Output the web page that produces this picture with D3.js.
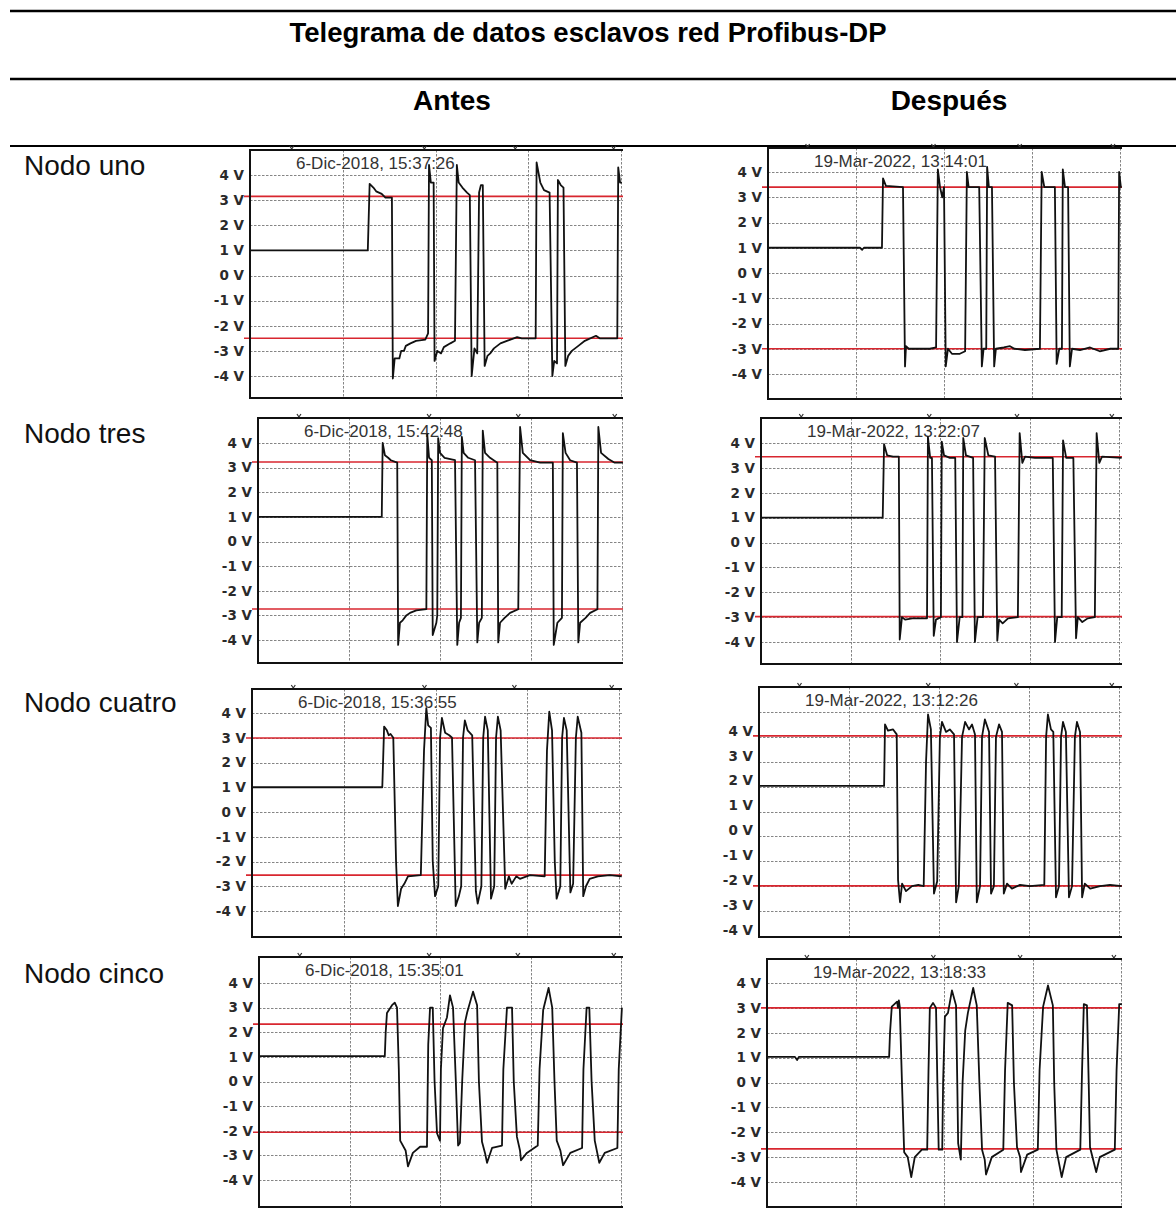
<!DOCTYPE html>
<html>
<head>
<meta charset="utf-8">
<script src="https://cdn.jsdelivr.net/npm/d3@7"></script>
<style>
  html, body { margin: 0; padding: 0; background: #fff; }
  svg { display: block; }
</style>
</head>
<body>
<script>
// ---------- data ----------
const tableTitle = "Telegrama de datos esclavos red Profibus-DP";
const columns = ["Antes", "Después"];
const nodes = ["Nodo uno", "Nodo tres", "Nodo cuatro", "Nodo cinco"];
const voltTicks = [4, 3, 2, 1, 0, -1, -2, -3, -4];
const cursorMarks = [0.45, 1.88, 2.86, 3.92];   // time (div) of the trigger markers

const stampsAntes = ["6-Dic-2018, 15:37:26", "6-Dic-2018, 15:42:48", "6-Dic-2018, 15:36:55", "6-Dic-2018, 15:35:01"];
const stampsDespues = ["19-Mar-2022, 13:14:01", "19-Mar-2022, 13:22:07", "19-Mar-2022, 13:12:26", "19-Mar-2022, 13:18:33"];

// reference levels (V): [high, low]
const levelsAntes = [[3.15, -2.5], [3.23, -2.74], [2.99, -2.55], [2.33, -2.06]];
const levelsDespues = [[3.4, -3.0], [3.45, -2.98], [3.04, -2.99], [3.0, -2.67]];

// traces: [time in divisions, volts]
const traceUnoAntes = [[0,1.0],[1.27,1.0],[1.29,3.65],[1.33,3.5],[1.36,3.35],[1.42,3.25],[1.46,3.1],[1.53,3.1],[1.54,-4.1],[1.56,-3.3],[1.61,-3.3],[1.63,-3.0],[1.66,-3.0],[1.68,-2.8],[1.73,-2.7],[1.79,-2.6],[1.89,-2.55],[1.92,-2.3],[1.93,4.4],[1.95,3.7],[1.98,3.7],[1.99,-3.4],[2.02,-3.0],[2.06,-3.1],[2.09,-2.85],[2.16,-2.7],[2.21,-2.6],[2.23,4.4],[2.25,3.7],[2.29,3.5],[2.34,3.3],[2.37,3.2],[2.39,-4.0],[2.42,-2.9],[2.45,-3.1],[2.47,3.3],[2.49,3.6],[2.51,3.6],[2.53,-3.6],[2.56,-3.2],[2.59,-3.1],[2.63,-2.9],[2.70,-2.7],[2.77,-2.6],[2.88,-2.45],[2.93,-2.5],[3.08,-2.5],[3.09,4.5],[3.13,3.7],[3.17,3.4],[3.23,3.3],[3.26,-4.0],[3.28,-3.4],[3.31,-3.5],[3.32,3.8],[3.35,3.6],[3.38,3.5],[3.40,-3.6],[3.43,-3.2],[3.47,-3.0],[3.54,-2.8],[3.61,-2.6],[3.73,-2.4],[3.77,-2.5],[3.96,-2.5],[3.97,4.3],[3.99,3.7],[4.01,3.7]];
const traceUnoDespues = [[0,1.0],[1.045,1.0],[1.07,0.92],[1.09,1.0],[1.295,1.0],[1.307,3.75],[1.34,3.45],[1.534,3.4],[1.557,-3.7],[1.568,-2.9],[1.60,-3.0],[1.84,-3.0],[1.91,-2.95],[1.93,4.1],[1.955,3.4],[1.98,3.0],[2.0,3.4],[2.02,-3.7],[2.045,-3.0],[2.09,-3.2],[2.18,-3.2],[2.24,-3.1],[2.26,4.0],[2.28,3.4],[2.40,3.4],[2.43,-3.7],[2.45,-3.0],[2.48,-3.0],[2.49,4.2],[2.51,3.4],[2.545,3.4],[2.57,-3.7],[2.59,-3.0],[2.68,-2.95],[2.75,-2.9],[2.80,-3.0],[2.92,-3.05],[3.09,-3.0],[3.11,4.0],[3.14,3.4],[3.26,3.4],[3.28,-3.6],[3.31,-3.0],[3.34,-3.0],[3.35,4.1],[3.375,3.4],[3.41,3.4],[3.43,-3.7],[3.455,-3.0],[3.545,-3.05],[3.66,-2.95],[3.77,-3.1],[3.89,-3.0],[3.98,-3.0],[3.99,4.0],[4.01,3.4],[4.02,3.4]];
const traceTresAntes = [[0,1.0],[1.36,1.0],[1.37,4.0],[1.395,3.5],[1.43,3.4],[1.46,3.3],[1.53,3.2],[1.54,-4.2],[1.56,-3.3],[1.59,-3.2],[1.63,-3.0],[1.67,-2.9],[1.74,-2.8],[1.85,-2.75],[1.86,4.35],[1.88,3.4],[1.91,3.3],[1.92,-3.8],[1.96,-3.3],[1.97,-3.0],[1.98,4.2],[2.0,3.6],[2.05,3.4],[2.165,3.3],[2.19,-4.2],[2.21,-3.3],[2.23,-3.1],[2.24,4.25],[2.26,3.6],[2.31,3.4],[2.385,3.3],[2.41,-4.1],[2.43,-3.3],[2.46,-3.1],[2.47,4.5],[2.495,3.6],[2.55,3.4],[2.63,3.2],[2.64,-4.1],[2.66,-3.3],[2.71,-3.1],[2.77,-2.9],[2.86,-2.75],[2.88,4.65],[2.91,3.6],[2.99,3.3],[3.1,3.2],[3.24,3.2],[3.25,-4.2],[3.29,-3.3],[3.34,-3.1],[3.35,4.4],[3.38,3.6],[3.43,3.3],[3.505,3.2],[3.52,-4.1],[3.54,-3.3],[3.60,-3.1],[3.65,-2.9],[3.73,-2.75],[3.74,4.65],[3.77,3.6],[3.85,3.35],[3.92,3.2],[4.01,3.2]];
const traceTresDespues = [[0,1.0],[1.36,1.0],[1.375,3.95],[1.41,3.5],[1.475,3.45],[1.54,3.45],[1.55,-3.9],[1.575,-3.0],[1.61,-3.1],[1.69,-3.05],[1.855,-3.05],[1.865,4.25],[1.89,3.4],[1.91,3.4],[1.93,-3.75],[1.955,-3.1],[2.01,-3.0],[2.02,4.05],[2.045,3.5],[2.11,3.4],[2.17,3.4],[2.19,-4.0],[2.22,-3.0],[2.25,-3.0],[2.26,4.2],[2.29,3.5],[2.37,3.4],[2.39,-4.0],[2.42,-3.0],[2.48,-3.0],[2.50,4.2],[2.54,3.5],[2.615,3.45],[2.64,-3.95],[2.66,-3.1],[2.70,-3.25],[2.76,-3.05],[2.87,-3.0],[2.89,4.4],[2.92,3.2],[2.95,3.45],[3.06,3.4],[3.26,3.4],[3.285,-4.0],[3.31,-3.0],[3.36,-3.0],[3.375,4.1],[3.41,3.4],[3.49,3.4],[3.52,-3.85],[3.54,-3.0],[3.59,-3.2],[3.65,-3.05],[3.73,-3.0],[3.75,4.4],[3.78,3.2],[3.81,3.45],[4.03,3.4]];
const traceCuatroAntes = [[0,1.0],[1.42,1.0],[1.43,2.2],[1.44,3.45],[1.47,3.3],[1.49,3.1],[1.51,3.15],[1.54,3.0],[1.57,-2.0],[1.59,-3.8],[1.625,-3.1],[1.66,-2.9],[1.70,-2.6],[1.84,-2.55],[1.875,2.5],[1.90,4.2],[1.92,3.5],[1.95,3.4],[1.97,-2.0],[1.995,-3.4],[2.03,-3.0],[2.05,3.0],[2.07,3.8],[2.105,3.2],[2.15,3.1],[2.18,3.0],[2.22,-3.8],[2.255,-3.4],[2.28,-3.0],[2.30,3.0],[2.32,3.7],[2.35,3.3],[2.40,3.1],[2.44,-3.2],[2.46,-3.7],[2.50,-3.0],[2.52,3.0],[2.54,3.85],[2.57,3.3],[2.605,-3.5],[2.64,-3.0],[2.66,3.0],[2.68,3.85],[2.71,3.3],[2.76,-3.1],[2.80,-2.6],[2.83,-2.9],[2.88,-2.6],[2.92,-2.7],[3.03,-2.55],[3.19,-2.6],[3.215,2.5],[3.24,4.05],[3.27,3.3],[3.30,-2.0],[3.32,-3.5],[3.36,-3.0],[3.38,3.0],[3.40,3.8],[3.43,3.3],[3.47,-3.25],[3.50,-2.9],[3.53,3.0],[3.55,3.85],[3.59,3.2],[3.61,-3.4],[3.64,-3.0],[3.68,-2.7],[3.77,-2.6],[3.90,-2.55],[4.03,-2.6]];
const traceCuatroDespues = [[0,1.03],[1.39,1.03],[1.40,3.5],[1.433,3.25],[1.49,3.3],[1.53,3.1],[1.545,-2.75],[1.567,-3.65],[1.59,-2.9],[1.633,-3.2],[1.70,-3.0],[1.77,-2.95],[1.83,-3.0],[1.856,2.0],[1.878,3.9],[1.91,3.3],[1.944,-3.3],[1.98,-2.8],[2.01,3.0],[2.033,3.6],[2.078,3.2],[2.12,3.3],[2.167,3.1],[2.19,-3.65],[2.22,-3.0],[2.256,3.0],[2.29,3.6],[2.333,3.3],[2.367,3.5],[2.40,3.1],[2.42,-3.65],[2.456,-3.0],[2.478,3.0],[2.51,3.7],[2.556,3.2],[2.578,-3.3],[2.61,-3.0],[2.633,3.0],[2.667,3.5],[2.70,3.2],[2.72,-3.3],[2.756,-2.9],[2.81,-3.1],[2.90,-2.95],[3.01,-3.0],[3.17,-2.95],[3.19,3.0],[3.21,3.9],[3.244,3.3],[3.27,3.2],[3.30,-3.45],[3.333,-3.0],[3.356,3.0],[3.378,3.6],[3.41,3.2],[3.444,-3.45],[3.478,-3.0],[3.51,3.0],[3.533,3.6],[3.567,3.2],[3.59,-3.45],[3.62,-2.9],[3.68,-3.1],[3.79,-3.0],[3.90,-2.95],[4.03,-3.0]];
const traceCincoAntes = [[0,1.03],[1.39,1.03],[1.40,2.0],[1.414,2.78],[1.47,3.1],[1.50,3.2],[1.525,3.0],[1.545,0.5],[1.56,-2.4],[1.62,-2.8],[1.646,-3.45],[1.70,-2.9],[1.78,-2.65],[1.856,-2.65],[1.87,1.5],[1.89,3.0],[1.92,3.0],[1.94,0.0],[1.967,-2.1],[2.0,-2.4],[2.01,0.5],[2.033,2.17],[2.077,2.6],[2.11,3.5],[2.144,3.0],[2.175,0.0],[2.2,-2.6],[2.22,-2.5],[2.245,0.0],[2.276,2.4],[2.30,2.8],[2.365,3.65],[2.41,3.1],[2.43,0.0],[2.464,-2.45],[2.497,-2.9],[2.52,-3.3],[2.575,-2.7],[2.685,-2.6],[2.70,0.5],[2.74,3.0],[2.796,3.0],[2.815,0.0],[2.85,-2.25],[2.884,-2.8],[2.895,-3.2],[2.96,-2.9],[3.08,-2.6],[3.10,0.5],[3.14,2.9],[3.20,3.8],[3.24,3.0],[3.265,0.0],[3.29,-2.4],[3.33,-2.8],[3.36,-3.4],[3.44,-2.9],[3.57,-2.7],[3.585,0.5],[3.62,3.0],[3.65,3.0],[3.675,0.0],[3.71,-2.4],[3.76,-3.3],[3.82,-2.9],[3.96,-2.7],[3.975,0.5],[4.01,3.0]];
const traceCincoDespues = [[0,1.03],[0.316,1.03],[0.34,0.9],[0.36,1.03],[1.38,1.03],[1.39,2.0],[1.41,3.05],[1.47,3.25],[1.48,3.0],[1.49,3.3],[1.50,3.05],[1.525,0.0],[1.55,-2.8],[1.59,-3.0],[1.63,-3.8],[1.67,-3.0],[1.75,-2.7],[1.81,-2.7],[1.825,0.5],[1.84,3.0],[1.876,3.2],[1.91,3.0],[1.925,0.0],[1.94,-2.7],[1.98,-2.7],[1.99,0.0],[2.01,2.65],[2.045,2.8],[2.09,3.7],[2.136,3.1],[2.15,0.0],[2.16,-2.45],[2.19,-3.1],[2.21,0.0],[2.24,2.1],[2.27,2.8],[2.33,3.8],[2.37,3.1],[2.40,0.0],[2.43,-2.7],[2.46,-3.1],[2.475,-3.7],[2.54,-3.0],[2.67,-2.7],[2.69,0.5],[2.72,3.2],[2.77,3.1],[2.79,0.0],[2.825,-2.6],[2.86,-3.0],[2.87,-3.6],[2.94,-2.9],[3.06,-2.7],[3.08,0.5],[3.12,3.05],[3.175,3.9],[3.23,3.1],[3.245,0.0],[3.27,-2.7],[3.33,-3.8],[3.38,-3.0],[3.54,-2.7],[3.56,0.5],[3.58,3.15],[3.615,3.1],[3.635,0.0],[3.65,-2.6],[3.72,-3.6],[3.76,-3.0],[3.93,-2.7],[3.95,0.5],[3.98,3.15],[4.01,3.15]];

const tracesAntes = [traceUnoAntes, traceTresAntes, traceCuatroAntes, traceCincoAntes];
const tracesDespues = [traceUnoDespues, traceTresDespues, traceCuatroDespues, traceCincoDespues];

// ---------- layout (pixels) ----------
const W = 1176, H = 1220;
const FONT = "'Liberation Sans', Arial, Helvetica, sans-serif";
const rowLabelY = [175, 443, 712, 983];
// screen boxes for each scope panel: left edge, top, bottom, right clip, y of +4 V / -4 V grid, width of one division
const boxesAntes = [
  {left: 250, top: 150, bottom: 398, right: 623, y4: 175, yM4: 376, div: 92.75, labelShift: 0},
  {left: 258, top: 418, bottom: 663, right: 623, y4: 443, yM4: 640, div: 91, labelShift: 0},
  {left: 252, top: 689, bottom: 937, right: 622, y4: 713, yM4: 911, div: 91.75, labelShift: 0},
  {left: 259, top: 957, bottom: 1207, right: 623, y4: 983, yM4: 1180, div: 90.5, labelShift: 0}
];
const boxesDespues = [
  {left: 768, top: 148, bottom: 399, right: 1122, y4: 172, yM4: 374, div: 88, labelShift: 0},
  {left: 761, top: 418, bottom: 664, right: 1122, y4: 443, yM4: 642, div: 89.5, labelShift: 0},
  {left: 759, top: 687, bottom: 937, right: 1122, y4: 712, yM4: 911, div: 90, labelShift: -0.76},
  {left: 767, top: 959, bottom: 1207, right: 1122, y4: 983, yM4: 1182, div: 88.5, labelShift: 0}
];

const svg = d3.select("body").append("svg")
  .attr("width", W).attr("height", H)
  .attr("viewBox", `0 0 ${W} ${H}`);

svg.append("rect").attr("width", W).attr("height", H).attr("fill", "#fff");

// ---------- table frame ----------
[11, 79, 146].forEach((yy, i) => {
  svg.append("line")
    .attr("x1", 10).attr("x2", W)
    .attr("y1", yy).attr("y2", yy)
    .attr("stroke", "#000")
    .attr("stroke-width", i < 2 ? 2.4 : 2);
});

svg.append("text")
  .attr("x", 588).attr("y", 42)
  .attr("text-anchor", "middle")
  .attr("font-family", FONT).attr("font-weight", "bold")
  .attr("font-size", 27.5)
  .text(tableTitle);

const colCenters = [452, 949];
columns.forEach((c, i) => {
  svg.append("text")
    .attr("x", colCenters[i]).attr("y", 110)
    .attr("text-anchor", "middle")
    .attr("font-family", FONT).attr("font-weight", "bold")
    .attr("font-size", 28)
    .text(c);
});

nodes.forEach((n, i) => {
  svg.append("text")
    .attr("x", 24).attr("y", rowLabelY[i])
    .attr("font-family", FONT)
    .attr("font-size", 28)
    .attr("fill", "#111")
    .text(n);
});

// ---------- scope panels ----------
let clipId = 0;
function drawScope(box, trace, levels, stamp) {
  const g = svg.append("g");
  const x = d3.scaleLinear().domain([0, 4]).range([box.left, box.left + 4 * box.div]);
  const y = d3.scaleLinear().domain([-4, 4]).range([box.yM4, box.y4]);
  const yLab = d3.scaleLinear().domain([-4, 4]).range([y(-4 + box.labelShift), y(4 + box.labelShift)]);

  const id = "clip" + (clipId++);
  g.append("clipPath").attr("id", id)
    .append("rect")
    .attr("x", box.left).attr("y", box.top)
    .attr("width", box.right - box.left).attr("height", box.bottom - box.top);

  // dashed grid
  const grid = g.append("g")
    .attr("stroke", "#858585").attr("stroke-width", 1)
    .attr("stroke-dasharray", "2.5,1.5");
  grid.selectAll("line.h").data(voltTicks).join("line")
    .attr("class", "h")
    .attr("x1", box.left).attr("x2", box.right)
    .attr("y1", d => Math.round(y(d)) + 0.5).attr("y2", d => Math.round(y(d)) + 0.5);
  grid.selectAll("line.v").data([1, 2, 3, 4]).join("line")
    .attr("class", "v")
    .attr("x1", d => Math.round(x(d)) + 0.5).attr("x2", d => Math.round(x(d)) + 0.5)
    .attr("y1", box.top).attr("y2", box.bottom);

  // trigger markers above the frame
  g.append("g").selectAll("path").data(cursorMarks).join("path")
    .attr("d", d => `M${x(d) - 2},${box.top - 4} L${x(d)},${box.top - 1} L${x(d) + 2},${box.top - 4}`)
    .attr("fill", "none").attr("stroke", "#333").attr("stroke-width", 1.2);

  // reference levels
  g.append("g").selectAll("line").data(levels).join("line")
    .attr("x1", box.left - 6).attr("x2", box.right)
    .attr("y1", d => y(d)).attr("y2", d => y(d))
    .attr("stroke", "#d8262f").attr("stroke-width", 1.6);

  // frame: top, left, bottom
  g.append("path")
    .attr("d", `M${box.right},${box.top} H${box.left} V${box.bottom} H${box.right}`)
    .attr("fill", "none").attr("stroke", "#111").attr("stroke-width", 2);

  // voltage labels
  const axis = d3.axisLeft(yLab)
    .tickValues(voltTicks)
    .tickSize(0).tickPadding(6)
    .tickFormat(d => `${d} V`);
  const ax = g.append("g").attr("transform", `translate(${box.left},0)`).call(axis);
  ax.select(".domain").remove();
  ax.selectAll("text")
    .attr("font-family", "'DejaVu Sans', Verdana, sans-serif")
    .attr("font-weight", "bold")
    .attr("font-size", 13.5)
    .attr("fill", "#2a2a2a");

  // timestamp
  g.append("text")
    .attr("x", box.left + 46).attr("y", box.top + 19)
    .attr("font-family", FONT).attr("font-size", 17)
    .attr("fill", "#333")
    .text(stamp);

  // signal trace
  const line = d3.line().x(d => x(d[0])).y(d => y(d[1]));
  g.append("path")
    .datum(trace)
    .attr("clip-path", `url(#${id})`)
    .attr("d", line)
    .attr("fill", "none")
    .attr("stroke", "#111")
    .attr("stroke-width", 1.8)
    .attr("stroke-linejoin", "round");
}

for (let i = 0; i < nodes.length; i++) {
  drawScope(boxesAntes[i], tracesAntes[i], levelsAntes[i], stampsAntes[i]);
  drawScope(boxesDespues[i], tracesDespues[i], levelsDespues[i], stampsDespues[i]);
}
</script>
</body>
</html>
